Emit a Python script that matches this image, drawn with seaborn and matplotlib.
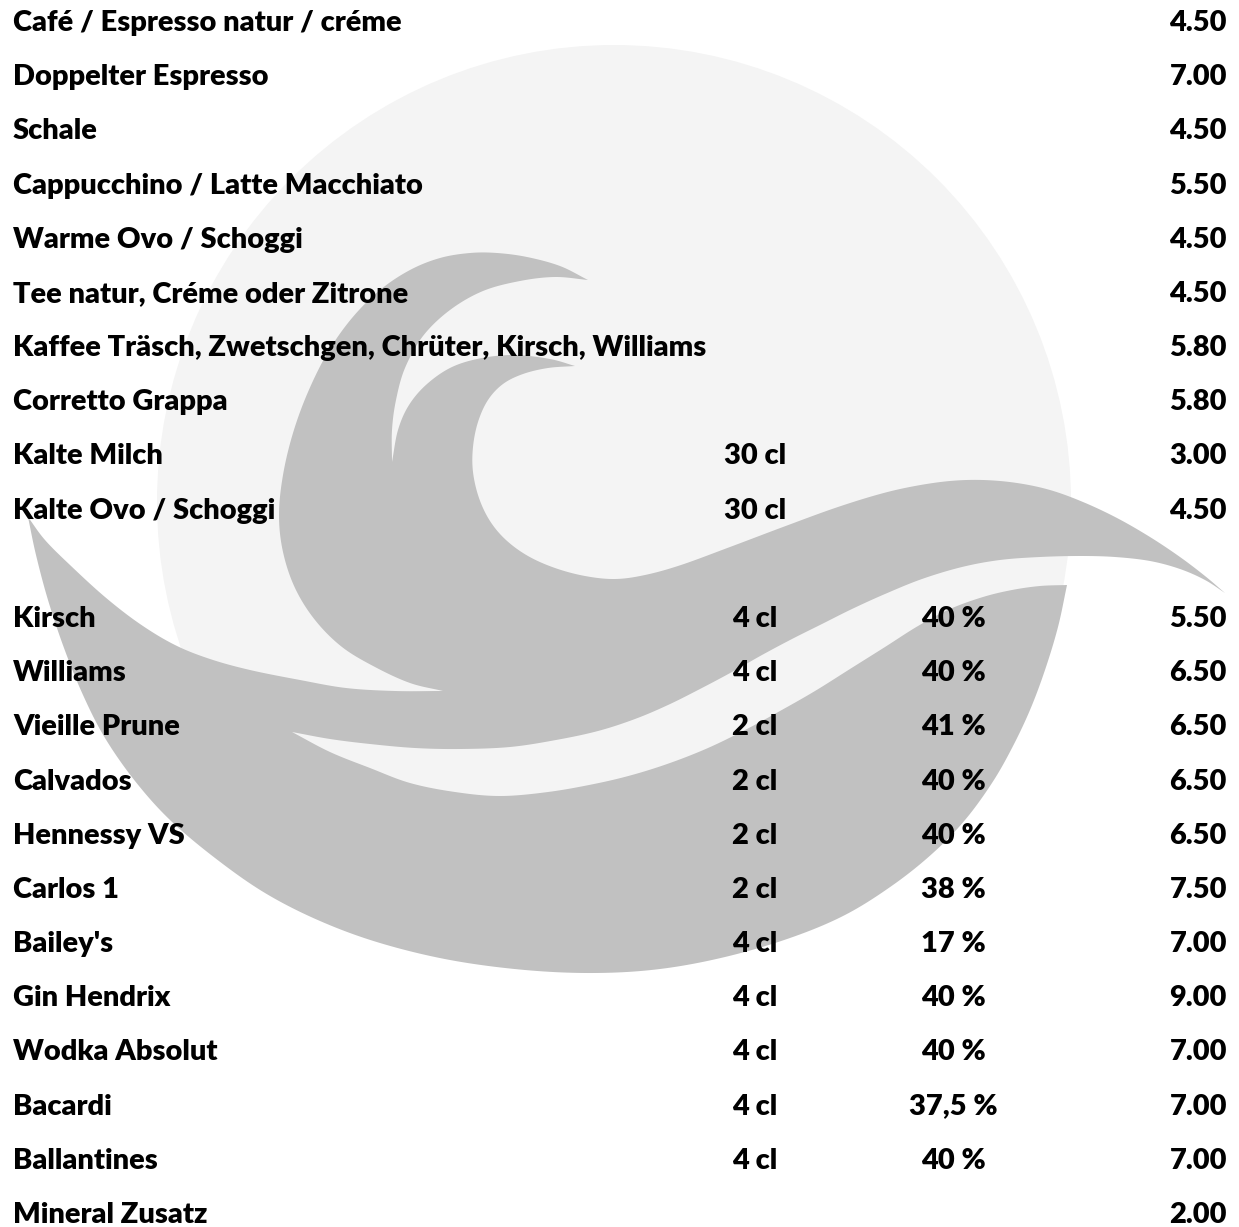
import matplotlib
matplotlib.use("Agg")
import matplotlib.pyplot as plt
from matplotlib.patches import Polygon, Circle
import numpy as np
import pandas as pd
import seaborn as sns

# ---------------- data ----------------
coffee_items = ["Café / Espresso natur / créme", "Doppelter Espresso", "Schale",
                "Cappucchino / Latte Macchiato", "Warme Ovo / Schoggi",
                "Tee natur, Créme oder Zitrone",
                "Kaffee Träsch, Zwetschgen, Chrüter, Kirsch, Williams",
                "Corretto Grappa", "Kalte Milch", "Kalte Ovo / Schoggi"]
coffee_sizes = ["", "", "", "", "", "", "", "", "30 cl", "30 cl"]
coffee_abv = [""] * 10
coffee_prices = [4.50, 7.00, 4.50, 5.50, 4.50, 4.50, 5.80, 5.80, 3.00, 4.50]

spirit_items = ["Kirsch", "Williams", "Vieille Prune", "Calvados", "Hennessy VS",
                "Carlos 1", "Bailey's", "Gin Hendrix", "Wodka Absolut", "Bacardi",
                "Ballantines", "Mineral Zusatz"]
spirit_sizes = ["4 cl", "4 cl", "2 cl", "2 cl", "2 cl", "2 cl", "4 cl", "4 cl",
                "4 cl", "4 cl", "4 cl", ""]
spirit_abv = ["40 %", "40 %", "41 %", "40 %", "40 %", "38 %", "17 %", "40 %",
              "40 %", "37,5 %", "40 %", ""]
spirit_prices = [5.50, 6.50, 6.50, 6.50, 6.50, 7.50, 7.00, 9.00, 7.00, 7.00, 7.00, 2.00]

# ---------------- table ----------------
df = pd.concat([
    pd.DataFrame({"item": coffee_items, "size": coffee_sizes, "abv": coffee_abv,
                  "price": coffee_prices, "section": 0}),
    pd.DataFrame({"item": spirit_items, "size": spirit_sizes, "abv": spirit_abv,
                  "price": spirit_prices, "section": 1}),
], ignore_index=True)
df["row"] = np.arange(len(df)) + df["section"]   # one blank row between sections

# ---------------- style ----------------
sns.set_theme(style="white")
plt.rcParams["font.family"] = ["Lato", "DejaVu Sans"]

W, H = 1239, 1227
fig = plt.figure(figsize=(W / 100, H / 100), dpi=100)
ax = fig.add_axes([0, 0, 1, 1])
ax.set_xlim(0, W)
ax.set_ylim(H, 0)
ax.set_axis_off()
sns.despine(ax=ax, left=True, bottom=True)

# ---------------- watermark logo (decoration) ----------------
LIGHT = "#f4f4f4"
GRAY = "#c1c1c1"
ax.add_patch(Circle((614, 502), 457, facecolor=LIGHT, edgecolor="none", zorder=0))

# outline split into smooth segments that meet at sharp tips
logo_segments = [
    # outer crest edge: tip T1 -> sliver tip
    [(588, 280), (560, 266), (527, 257), (497, 253), (470, 253), (440, 258), (410, 270),
     (380, 290), (352, 318), (328, 352), (308, 392), (293, 433), (283, 475), (279, 515),
     (283, 552), (295, 588), (315, 620), (342, 647), (375, 667), (410, 683), (443, 691)],
    # sliver lower edge -> tail tip
    [(443, 691), (395, 691), (346, 688), (300, 680), (250, 670), (210, 659), (175, 645),
     (140, 624), (105, 597), (70, 565), (45, 540), (28, 517)],
    # tail outer edge + bowl -> bowl corner
    [(28, 517), (36, 555), (48, 600), (64, 648), (83, 695), (105, 738), (135, 781),
     (170, 820), (215, 858), (265, 893), (320, 921), (380, 943), (450, 960), (525, 970),
     (595, 973), (660, 969), (725, 957), (790, 938), (845, 915), (893, 885), (933, 853),
     (965, 820), (992, 783), (1012, 748), (1030, 710), (1045, 670), (1058, 627),
     (1067, 585)],
    # stripe lower edge -> stripe tip
    [(1067, 585), (1040, 586), (1012, 590), (983, 597), (950, 609), (918, 626),
     (885, 647), (850, 669), (815, 691), (780, 711), (745, 730), (708, 748), (670, 763),
     (632, 775), (594, 784), (548, 792), (500, 796), (455, 792), (410, 783), (370, 768),
     (330, 752), (292, 732)],
    # stripe upper edge -> swoosh tip
    [(292, 732), (330, 739), (370, 744), (415, 748), (460, 749), (510, 747), (556, 740),
     (598, 731), (635, 719), (668, 705), (700, 689), (732, 672), (762, 655), (792, 639),
     (822, 624), (852, 609), (885, 594), (922, 579), (962, 567), (1000, 560), (1040, 557),
     (1080, 556), (1115, 557), (1150, 561), (1180, 569), (1205, 580), (1225, 593)],
    # swoosh upper edge + eye -> T2
    [(1225, 593), (1205, 576), (1180, 557), (1150, 537), (1117, 518), (1083, 502),
     (1050, 490), (1017, 483), (983, 480), (950, 481), (915, 486), (880, 494),
     (835, 508), (783, 527), (730, 547), (681, 565), (645, 575), (615, 579), (585, 576),
     (555, 568), (528, 556), (506, 540), (490, 521), (479, 498), (473, 472), (473, 447),
     (478, 422), (488, 400), (503, 384), (523, 374), (548, 368), (575, 366)],
    # inner lobe outer edge -> inner sliver tip
    [(575, 366), (550, 359), (515, 355), (482, 358), (452, 367), (427, 384), (409, 405),
     (398, 430), (392, 462)],
    # outer lobe underside -> T1
    [(392, 462), (392, 430), (396, 400), (405, 368), (423, 336), (450, 310), (483, 291),
     (520, 281), (555, 277), (588, 280)],
]


def smooth(points, n=12):
    """Catmull-Rom through the points, endpoints kept sharp."""
    p = np.asarray(points, dtype=float)
    ext = np.vstack([2 * p[0] - p[1], p, 2 * p[-1] - p[-2]])
    out = []
    for i in range(1, len(ext) - 2):
        p0, p1, p2, p3 = ext[i - 1], ext[i], ext[i + 1], ext[i + 2]
        for t in np.linspace(0, 1, n, endpoint=False):
            t2, t3 = t * t, t * t * t
            out.append(0.5 * ((2 * p1) + (-p0 + p2) * t + (2 * p0 - 5 * p1 + 4 * p2 - p3) * t2
                              + (-p0 + 3 * p1 - 3 * p2 + p3) * t3))
    return np.array(out)


outline = np.vstack([smooth(seg) for seg in logo_segments])
ax.add_patch(Polygon(outline, closed=True, facecolor=GRAY, edgecolor="none", zorder=1))

# ---------------- text ----------------
X_NAME, X_SIZE, X_ABV, X_PRICE = 13, 755, 953, 1227
BASE0, STEP = 31, 54.18
WEIGHT = "heavy"

# fit font size so the longest item matches the reference width
probe = ax.text(0, 0, max(df["item"], key=len), fontsize=20, fontweight=WEIGHT)
fig.canvas.draw()
wpx = probe.get_window_extent().width
probe.remove()
fs = 20 * 695 / wpx

for _, r in df.iterrows():
    y = BASE0 + r["row"] * STEP
    kw = dict(fontsize=fs, fontweight=WEIGHT, color="black", va="baseline", zorder=3)
    ax.text(X_NAME, y, r["item"], ha="left", **kw)
    if r["size"]:
        ax.text(X_SIZE, y, r["size"], ha="center", **kw)
    if r["abv"]:
        ax.text(X_ABV, y, r["abv"], ha="center", **kw)
    ax.text(X_PRICE, y, f"{r['price']:.2f}", ha="right", **kw)

fig.savefig("out.png", dpi=100, facecolor="white")
